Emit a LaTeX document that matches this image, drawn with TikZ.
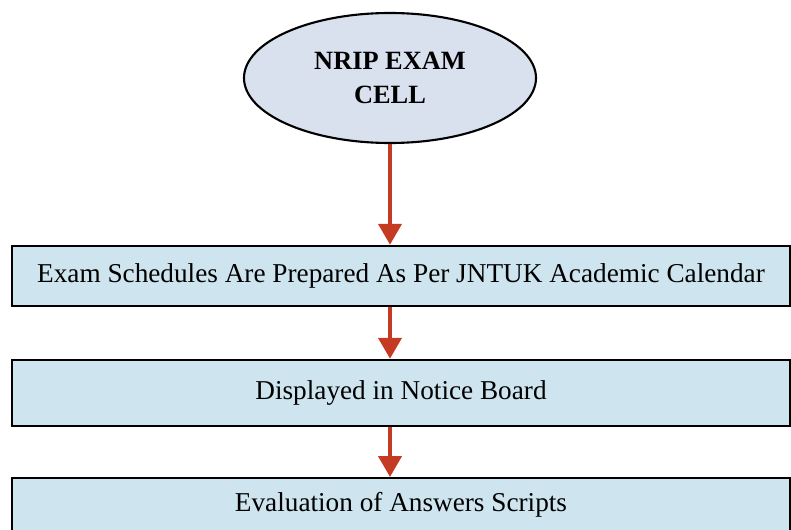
\documentclass[tikz,border=0pt]{standalone}
\usepackage{fontspec}
\setmainfont{Liberation Serif}
\usetikzlibrary{arrows.meta,shapes.geometric}

\definecolor{boxblue}{RGB}{206,228,238}
\definecolor{cellblue}{RGB}{218,225,238}
\definecolor{arrowred}{RGB}{196,58,34}

\tikzset{
  stepbox/.style={rectangle,draw,line width=1.4pt,fill=boxblue,
    minimum width=15.56cm,minimum height=1.2cm,inner sep=0pt,
    font=\fontsize{15.5}{18}\selectfont},
  flowarrow/.style={draw=arrowred,line width=2.4pt,
    -{Triangle[width=0.46cm,length=0.42cm]}}
}

\begin{document}
\begin{tikzpicture}

    \useasboundingbox (0,0) rectangle (15.82,-10.6);

    % exam cell
    \node[ellipse,draw,line width=1.2pt,fill=cellblue,minimum width=5.84cm,minimum height=2.6cm,
      align=center,font=\fontsize{15}{19.5}\bfseries\selectfont] (cell) at (7.8,-1.56) {NRIP EXAM\\CELL};

    % schedules
    \node[stepbox] (sched) at (8.02,-5.52) {Exam Schedules Are Prepared As Per JNTUK Academic Calendar};
    \draw[flowarrow] (cell.south) to (cell.south |- sched.north);

    % notice board
    \node[stepbox,minimum height=1.32cm] (notice) at (8.02,-7.86) {Displayed in Notice Board};
    \draw[flowarrow] (cell.south |- sched.south) to (cell.south |- notice.north);

    % evaluation (runs off the bottom)
    \node[stepbox,minimum height=0pt,text height=0.66cm,text depth=0.7cm,anchor=north] (eval) at (8.02,-9.54) {Evaluation of Answers Scripts};
    \draw[flowarrow] (cell.south |- notice.south) to (cell.south |- eval.north);

\end{tikzpicture}
\end{document}
